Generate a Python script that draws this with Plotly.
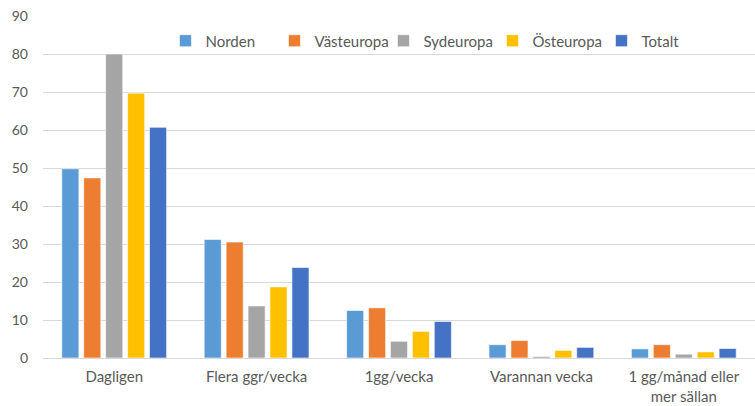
import plotly.graph_objects as go

categories = ["Dagligen", "Flera ggr/vecka", "1gg/vecka", "Varannan vecka", "1 gg/månad eller<br>mer sällan"]
norden = [49.8, 31.2, 12.5, 3.5, 2.4]
vasteuropa = [47.4, 30.5, 13.2, 4.6, 3.5]
sydeuropa = [80.0, 13.7, 4.4, 0.4, 1.0]
osteuropa = [69.7, 18.7, 7.0, 2.0, 1.6]
totalt = [60.7, 23.8, 9.6, 2.8, 2.5]

series = [
    ("Norden", norden, "#5B9BD5"),
    ("Västeuropa", vasteuropa, "#ED7D31"),
    ("Sydeuropa", sydeuropa, "#A5A5A5"),
    ("Östeuropa", osteuropa, "#FFC000"),
    ("Totalt", totalt, "#4472C4"),
]

fig = go.Figure()
for name, vals, col in series:
    fig.add_trace(go.Bar(x=categories, y=vals, name=name,
                         marker=dict(color=col, line=dict(color="rgba(255,255,255,0.6)", width=1))))

fig.update_layout(
    width=755, height=406,
    margin=dict(l=43, r=0, t=16, b=48),
    paper_bgcolor="white", plot_bgcolor="white",
    barmode="group", bargap=0.23, bargroupgap=0.22,
    font=dict(family="Lato, Open Sans, sans-serif", color="#595959", size=14),
    legend=dict(orientation="h", x=0.172, y=0.927, xanchor="left", yanchor="middle",
                entrywidth=64, entrywidthmode="pixels",
                font=dict(size=15, color="#595959"), itemwidth=30,
                bgcolor="rgba(0,0,0,0)", traceorder="normal"),
    showlegend=True,
)
fig.update_yaxes(range=[0, 90], dtick=10, showgrid=True, gridcolor="#D9D9D9", gridwidth=1,
                 zeroline=True, zerolinecolor="#D9D9D9", zerolinewidth=1,
                 showline=False, ticks="", tickfont=dict(size=14), ticklabelstandoff=14,
                 automargin=False)
fig.update_xaxes(showline=False, ticks="", tickfont=dict(size=15), ticklabelstandoff=8,
                 automargin=False)

fig.write_html("out.html", config={"displayModeBar": False},
               post_script="document.body.style.margin='0';")
